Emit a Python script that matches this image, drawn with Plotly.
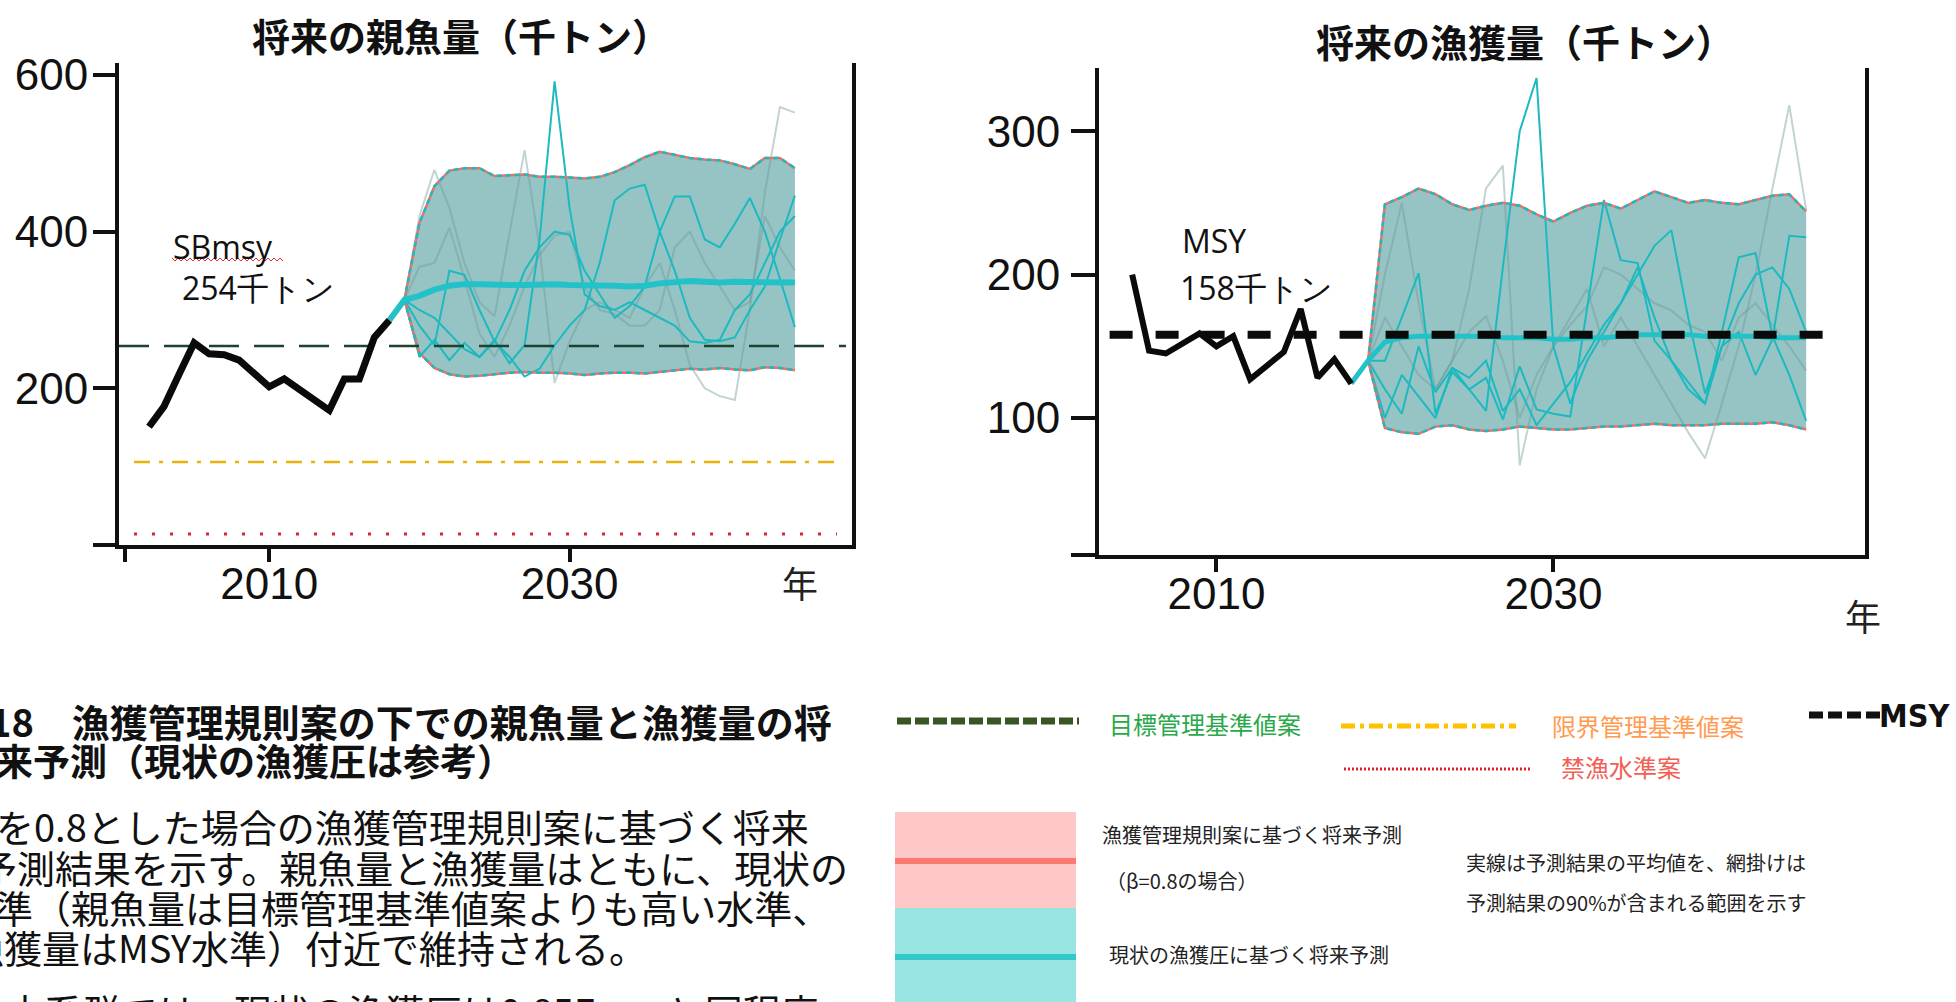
import plotly.graph_objects as go

W, H = 1956, 1002

# ---------------- data: spawning biomass (left) ----------------
sb_hist_years = list(range(2002, 2019))
sb_hist = [151, 177, 218, 258, 244, 243, 236, 219, 202, 212, 198, 186, 172, 212, 212, 265, 287]

mean_years = list(range(2018, 2046))
sb_mean = [287, 313, 318, 326, 331, 333, 333, 332, 332, 332, 333, 333, 332, 332, 332, 331,
           330, 331, 334, 336, 337, 336, 335, 336, 336, 335, 336, 335]

band_years = list(range(2019, 2046))
sb_upper = [313, 411, 458, 478, 481, 481, 471, 472, 473, 470, 470, 469, 468, 470, 476, 485,
            495, 502, 498, 494, 492, 491, 486, 480, 494, 494, 481]
sb_lower = [313, 245, 226, 218, 215, 216, 218, 220, 221, 220, 220, 219, 217, 219, 220, 220,
            219, 221, 223, 225, 224, 226, 224, 223, 227, 226, 223]

sb_path_a = [313, 240, 262, 236, 258, 240, 262, 232, 255, 390, 592, 430, 320, 305, 300, 310,
             300, 290, 280, 260, 258, 262, 300, 320, 360, 400, 420]
sb_path_b = [313, 280, 255, 350, 345, 300, 260, 240, 215, 225, 255, 280, 300, 360, 440, 455,
             460, 400, 350, 290, 262, 260, 265, 300, 330, 390, 446]
sb_path_c = [313, 300, 290, 270, 250, 240, 260, 300, 350, 380, 400, 396, 350, 320, 290, 305,
             330, 400, 445, 445, 390, 380, 410, 443, 400, 340, 278]
sb_path_d = [313, 420, 479, 430, 360, 310, 292, 400, 504, 380, 207, 260, 300, 310, 300, 290,
             330, 360, 300, 230, 200, 190, 185, 300, 450, 559, 552]
sb_path_e = [313, 355, 360, 405, 340, 270, 240, 280, 330, 370, 395, 400, 330, 300, 295, 280,
             280, 300, 380, 400, 360, 330, 300, 310, 420, 380, 350]

SB_MSY = 254
SB_LIMIT = 106
SB_BAN = 14
sbmsy_span = [2000, 2048.4]
sblimit_span = [2001, 2047.7]
sbban_span = [2001, 2047.8]

# ---------------- data: catch (right) ----------------
c_hist_years = list(range(2005, 2019))
c_hist = [200, 147, 145, 152, 159, 150, 157, 127, 137, 146, 176, 128, 141, 124]

c_mean = [124, 140, 153, 156, 157, 157, 157, 157, 157, 156, 156, 156, 155, 155, 156, 156,
          157, 158, 158, 158, 158, 157, 157, 157, 157, 156, 156, 156]
c_upper = [140, 249, 254, 260, 256, 249, 245, 248, 250, 248, 242, 237, 243, 248, 250, 246,
           252, 258, 254, 250, 252, 250, 249, 252, 255, 256, 244]
c_lower = [140, 93, 90, 89, 94, 95, 92, 91, 92, 94, 93, 92, 92, 93, 94, 94,
           95, 96, 95, 95, 95, 96, 96, 96, 97, 95, 92]

c_path_a = [140, 100, 130, 115, 100, 135, 120, 105, 205, 300, 337, 150, 110, 140, 160, 180,
            205, 170, 140, 120, 110, 150, 160, 130, 155, 227, 226]
c_path_b = [140, 140, 170, 201, 103, 132, 120, 128, 99, 136, 106, 103, 101, 175, 252, 210,
            208, 154, 140, 125, 110, 160, 212, 215, 157, 130, 98]
c_path_c = [140, 120, 103, 150, 118, 135, 128, 140, 105, 120, 95, 110, 125, 145, 165, 180,
            200, 220, 231, 170, 117, 150, 180, 200, 205, 190, 160]
c_path_d = [140, 170, 150, 130, 120, 140, 190, 260, 276, 67, 120, 150, 170, 190, 150, 170,
            150, 130, 110, 90, 72, 110, 150, 200, 260, 318, 245]
c_path_e = [140, 200, 250, 180, 120, 140, 160, 171, 140, 100, 130, 150, 165, 178, 205, 200,
            190, 180, 175, 165, 160, 140, 170, 180, 165, 150, 133]

MSY = 158
msy_span = [2003.66, 2047.25]

# ---------------- texts ----------------
title_left = "将来の親魚量（千トン）"
title_right = "将来の漁獲量（千トン）"
year_label = "年"
caption_lines = [
    "図18　漁獲管理規則案の下での親魚量と漁獲量の将",
    "来予測（現状の漁獲圧は参考）",
]
body_lines = [
    "βを0.8とした場合の漁獲管理規則案に基づく将来",
    "予測結果を示す。親魚量と漁獲量はともに、現状の",
    "水準（親魚量は目標管理基準値案よりも高い水準、",
    "漁獲量はMSY水準）付近で維持される。",
    "本系群では、現状の漁獲圧は0.85Fmsyと同程度",
]

# ---------------- styles ----------------
BAND = "rgb(150,196,196)"
TEAL = "rgb(28,186,192)"
TEAL_MEAN = "rgb(35,194,200)"
GREY = "rgba(110,150,150,0.42)"
EDGE_RED = "rgb(240,112,100)"
JP = "Noto Sans CJK JP"
NUM = "Liberation Sans"


def px(x):
    return x / W


def py(y):
    return 1 - y / H


fig = go.Figure()


def add_band(xa, ya, up, lo, teal_paths, grey_paths):
    fig.add_trace(go.Scatter(x=band_years, y=lo, mode="lines", line=dict(width=0),
                             xaxis=xa, yaxis=ya, hoverinfo="skip"))
    fig.add_trace(go.Scatter(x=band_years, y=up, mode="lines", line=dict(width=0),
                             fill="tonexty", fillcolor=BAND, xaxis=xa, yaxis=ya, hoverinfo="skip"))
    for p in grey_paths:
        fig.add_trace(go.Scatter(x=band_years, y=p, mode="lines", line=dict(color=GREY, width=2),
                                 xaxis=xa, yaxis=ya, hoverinfo="skip"))
    for p in teal_paths:
        fig.add_trace(go.Scatter(x=band_years, y=p, mode="lines", line=dict(color=TEAL, width=2),
                                 xaxis=xa, yaxis=ya, hoverinfo="skip"))
    for e in (up, lo):
        fig.add_trace(go.Scatter(x=band_years, y=e, mode="lines",
                                 line=dict(color=EDGE_RED, width=2.5),
                                 xaxis=xa, yaxis=ya, hoverinfo="skip"))
        fig.add_trace(go.Scatter(x=band_years, y=e, mode="lines",
                                 line=dict(color=TEAL, width=2.5, dash="5px,4px"),
                                 xaxis=xa, yaxis=ya, hoverinfo="skip"))


# ---------- left chart ----------
fig.add_trace(go.Scatter(x=sblimit_span, y=[SB_LIMIT, SB_LIMIT], mode="lines",
                         line=dict(color="rgb(236,178,12)", width=2.5, dash="16px,9px,4px,9px"),
                         xaxis="x", yaxis="y", hoverinfo="skip"))
fig.add_trace(go.Scatter(x=sbban_span, y=[SB_BAN, SB_BAN], mode="lines",
                         line=dict(color="rgb(215,40,45)", width=3, dash="3px,15px"),
                         xaxis="x", yaxis="y", hoverinfo="skip"))
add_band("x", "y", sb_upper, sb_lower, [sb_path_a, sb_path_b, sb_path_c], [sb_path_d, sb_path_e])
fig.add_trace(go.Scatter(x=sbmsy_span, y=[SB_MSY, SB_MSY], mode="lines",
                         line=dict(color="rgb(30,66,50)", width=2.5, dash="30px,15px"),
                         xaxis="x", yaxis="y", hoverinfo="skip"))
fig.add_trace(go.Scatter(x=mean_years, y=sb_mean, mode="lines",
                         line=dict(color=TEAL_MEAN, width=6), xaxis="x", yaxis="y", hoverinfo="skip"))
fig.add_trace(go.Scatter(x=sb_hist_years, y=sb_hist, mode="lines",
                         line=dict(color="#0a0a0a", width=7), xaxis="x", yaxis="y", hoverinfo="skip"))

# ---------- right chart ----------
add_band("x2", "y2", c_upper, c_lower, [c_path_a, c_path_b, c_path_c], [c_path_d, c_path_e])
fig.add_trace(go.Scatter(x=mean_years, y=c_mean, mode="lines",
                         line=dict(color=TEAL_MEAN, width=5), xaxis="x2", yaxis="y2", hoverinfo="skip"))
fig.add_trace(go.Scatter(x=msy_span, y=[MSY, MSY], mode="lines",
                         line=dict(color="#0a0a0a", width=8, dash="23px,23px"),
                         xaxis="x2", yaxis="y2", hoverinfo="skip"))
fig.add_trace(go.Scatter(x=c_hist_years, y=c_hist, mode="lines",
                         line=dict(color="#0a0a0a", width=6), xaxis="x2", yaxis="y2", hoverinfo="skip"))

axis_common = dict(showline=True, linewidth=4, linecolor="#111", ticks="outside", tickwidth=4,
                   tickcolor="#111", showgrid=False, zeroline=False, automargin=False,
                   tickfont=dict(family=NUM, size=44, color="#111"))

fig.update_layout(
    width=W, height=H, margin=dict(l=0, r=0, t=0, b=0, autoexpand=False),
    paper_bgcolor="white", plot_bgcolor="white", showlegend=False, hovermode=False,
    xaxis=dict(domain=[px(119), px(852)], range=[2000, 2048.8], anchor="y",
               tickvals=[2000.4, 2010, 2030], ticktext=["", "2010", "2030"],
               ticklen=13, ticklabelstandoff=-16, **axis_common),
    yaxis=dict(domain=[py(545), py(63)], range=[0, 615.3], anchor="x",
               tickvals=[0, 200, 400, 600], ticktext=["", "200", "400", "600"],
               ticklen=22, ticklabelstandoff=-4, mirror=True, **axis_common),
    xaxis2=dict(domain=[px(1099), px(1864.6)], range=[2003.03, 2048.47], anchor="y2",
                tickvals=[2010, 2030], ticktext=["2010", "2030"],
                ticklen=13, ticklabelstandoff=-16, **axis_common),
    yaxis2=dict(domain=[py(555), py(67.6)], range=[4.5, 344.3], anchor="x2",
                tickvals=[4.5, 100, 200, 300], ticktext=["", "100", "200", "300"],
                ticklen=24, ticklabelstandoff=2, mirror=True, **axis_common),
)

ann = []


def text(x, y, s, size, color="#111", family=JP, anchor="left", weight="normal"):
    ann.append(dict(x=px(x), y=py(y), xref="paper", yref="paper", text=s, showarrow=False,
                    xanchor=anchor, yanchor="middle",
                    font=dict(family=family, size=size, color=color, weight=weight)))


# chart titles and labels
text(461, 34, title_left, 38, anchor="center", weight="bold")
text(1524.5, 41, title_right, 38, anchor="center", weight="bold")
text(800, 582, year_label, 36, color="#222", anchor="center")
text(1863, 615, year_label, 36, color="#222", anchor="center")
text(171, 246, "SBmsy", 32, family="Open Sans")
text(180, 287, "254千トン", 32, family="Open Sans")
text(1180, 240, "MSY", 32, family="Open Sans")
text(1178, 287, "158千トン", 32, family="Open Sans")

# caption
text(834, 720, caption_lines[0], 38, anchor="right", weight="bold")
text(-6, 760, caption_lines[1], 37, anchor="left", weight="bold")
text(-30, 825, body_lines[0], 38, anchor="left")
text(-23, 866, body_lines[1], 38, anchor="left")
text(-45, 906, body_lines[2], 38, anchor="left")
text(-36, 946, body_lines[3], 38, anchor="left")
text(4, 1010, body_lines[4], 38, anchor="left")

# legend texts
text(1107, 723, "目標管理基準値案", 24, color="#2AA84A")
text(1550, 725, "限界管理基準値案", 24, color="#FF9A50")
text(1559, 766, "禁漁水準案", 24, color="#F26055")
text(1952, 716, "MSY", 32, family="DejaVu Sans Condensed, Liberation Sans Narrow, Liberation Sans",
     anchor="right", weight="bold")
text(1100, 834, "漁獲管理規則案に基づく将来予測", 20, color="#222")
text(1104, 880, "（β=0.8の場合）", 20, color="#222")
text(1107, 954, "現状の漁獲圧に基づく将来予測", 20, color="#222")
text(1464, 862, "実線は予測結果の平均値を、網掛けは", 20, color="#222")
text(1464, 902, "予測結果の90%が含まれる範囲を示す", 20, color="#222")

shapes = []


def hline(x0, x1, y, color, width, dash="solid"):
    shapes.append(dict(type="line", xref="paper", yref="paper", x0=px(x0), x1=px(x1),
                       y0=py(y), y1=py(y), line=dict(color=color, width=width, dash=dash)))


def rect(x0, x1, y0, y1, color):
    shapes.append(dict(type="rect", xref="paper", yref="paper", x0=px(x0), x1=px(x1),
                       y0=py(y1), y1=py(y0), fillcolor=color, line=dict(width=0), layer="below"))


rect(895, 1076, 812, 908, "#FFC8C8")
rect(895, 1076, 908, 1002, "#98E4E2")
hline(895, 1076, 861, "#FA7A70", 6)
hline(895, 1076, 957, "#33C8C8", 6)
hline(897, 1079, 721, "#375623", 7, "14px,4px")
hline(1341, 1516, 726, "#FFC000", 5, "14px,5px,4px,5px")
hline(1344, 1530, 769, "#E81E25", 3, "2px,2px")
hline(1809, 1880, 715, "#111111", 7, "14px,5px")

# spell-check squiggle under SBmsy
pts = []
xx = 172
k = 0
while xx <= 283:
    pts.append((px(xx), py(258 if k % 2 == 0 else 261)))
    xx += 3
    k += 1
path = "M " + " L ".join(f"{a:.5f},{b:.5f}" for a, b in pts)
shapes.append(dict(type="path", xref="paper", yref="paper", path=path,
                   line=dict(color="#E03030", width=1)))

fig.update_layout(annotations=ann, shapes=shapes)

fig.write_html("out.html", config={"displayModeBar": False},
               post_script="document.body.style.margin='0px';document.body.style.overflow='hidden';")
